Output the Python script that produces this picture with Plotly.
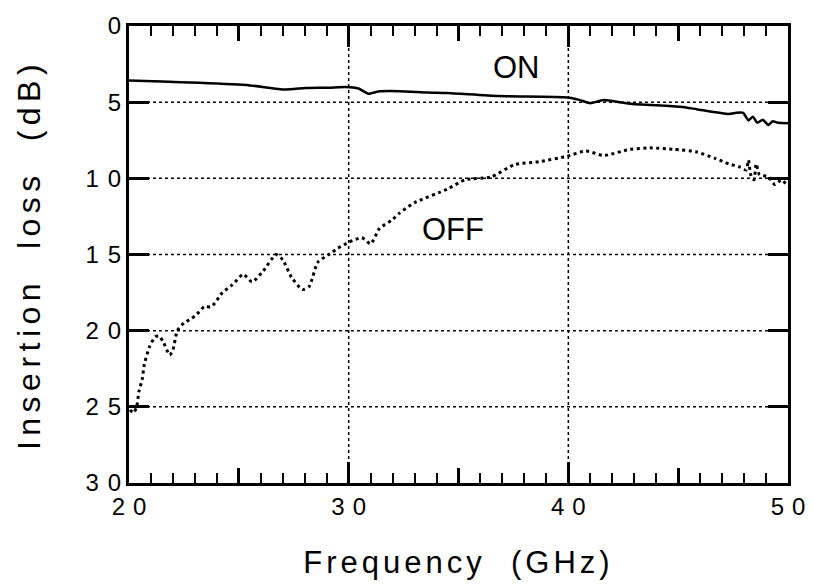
import plotly.graph_objects as go

# ---- data ----
on_freq = [20.0, 21.5, 23.2, 25.5, 27.1, 28.05, 29.1, 29.85, 30.45, 30.9, 31.35, 32.3,
           33.6, 34.5, 36.8, 39.95, 40.5, 41.0, 41.6, 42.8, 45.1, 45.84, 47.3, 47.65,
           47.96, 48.2, 48.4, 48.6, 48.85, 49.1, 49.3, 49.55, 50.0]
on_loss = [3.58, 3.65, 3.73, 3.9, 4.17, 4.07, 4.05, 4.0, 4.1, 4.45, 4.3, 4.28,
           4.37, 4.4, 4.6, 4.69, 4.85, 5.07, 4.86, 5.1, 5.3, 5.46, 5.78, 5.7,
           5.7, 6.2, 5.95, 6.35, 6.15, 6.5, 6.25, 6.35, 6.38]

off_freq = [20.05, 20.2, 20.35, 20.45, 20.6, 20.7, 20.95, 21.2, 21.35, 21.55, 21.85, 22.0,
            22.2, 22.5, 22.85, 23.1, 23.45, 23.7, 23.9, 24.25, 24.7, 25.2, 25.6, 26.1,
            26.7, 27.0, 27.4, 27.9, 28.2, 28.6, 29.1, 29.5, 30.0, 30.6, 31.0, 31.4,
            32.0, 32.3, 33.0, 34.5, 35.3, 36.5, 37.55, 38.7, 39.95, 40.8, 41.6, 42.8,
            43.7, 44.8, 45.8, 46.7, 47.3, 47.8, 48.1, 48.2, 48.3, 48.45, 48.55, 48.7,
            49.1, 49.4, 49.7, 49.9]
off_loss = [25.2, 25.4, 25.0, 24.0, 23.2, 22.2, 21.0, 20.4, 20.35, 20.7, 21.6, 21.25,
            20.0, 19.5, 19.2, 18.9, 18.4, 18.45, 18.2, 17.5, 17.0, 16.3, 16.8, 16.1,
            15.0, 15.35, 16.5, 17.3, 17.1, 15.5, 15.0, 14.6, 14.2, 13.9, 14.3, 13.3,
            12.7, 12.3, 11.6, 10.7, 10.1, 9.9, 9.1, 8.9, 8.55, 8.2, 8.5, 8.1,
            8.0, 8.1, 8.25, 8.7, 9.05, 9.25, 9.45, 8.8, 9.75, 10.1, 9.05, 9.75,
            9.9, 10.4, 10.1, 10.35]

y_ticks = [0, 5, 10, 15, 20, 25, 30]
x_ticks = [20, 30, 40, 50]
x_mid_ticks = [25, 35, 45]
labels = ["ON", "OFF"]
label_x = [37.65, 34.75]
label_y = [2.73, 13.39]

FONT = "Liberation Sans, Arial, Helvetica, sans-serif"
NB = "\u00a0"

fig = go.Figure()
fig.add_trace(go.Scatter(x=on_freq, y=on_loss, mode="lines",
                         line=dict(color="black", width=2.5, shape="spline", smoothing=0.5),
                         showlegend=False))
fig.add_trace(go.Scatter(x=off_freq, y=off_loss, mode="lines",
                         line=dict(color="black", width=3, dash="3px,3.5px", shape="spline", smoothing=0.6),
                         showlegend=False))
# helper axis that only carries the medium ticks at 25/35/45 GHz
fig.add_trace(go.Scatter(x=[x_ticks[0], x_ticks[-1]], y=[None, None], xaxis="x2", mode="lines",
                         showlegend=False, hoverinfo="skip"))

# dotted grid at the inner major tick values
for gx in x_ticks[1:-1]:
    fig.add_vline(x=gx, line=dict(color="black", width=1.5, dash="dot"), layer="below")
for gy in y_ticks[1:-1]:
    fig.add_hline(y=gy, line=dict(color="black", width=1.5, dash="dot"), layer="below")

for txt, lx, ly in zip(labels, label_x, label_y):
    fig.add_annotation(x=lx, y=ly, text=txt, showarrow=False,
                       font=dict(family="Liberation Sans Narrow, " + FONT, size=31, color="black"))

fig.update_layout(
    width=813, height=588,
    margin=dict(l=129, r=21, t=16, b=105),
    paper_bgcolor="white", plot_bgcolor="rgba(0,0,0,0)",
    font=dict(family=FONT, color="black"),
    xaxis=dict(
        range=[20, 50], tickvals=x_ticks, ticks="inside", ticklen=21, tickwidth=2.5,
        tickcolor="black", showline=True, linecolor="black", linewidth=3, mirror="ticks",
        showgrid=False, zeroline=False,
        minor=dict(dtick=1, ticks="inside", ticklen=10, tickwidth=2, tickcolor="black"),
        tickfont=dict(size=24, family=FONT),
        title=dict(text="Frequency" + NB + NB + "(GHz)", font=dict(size=31, family=FONT), standoff=33),
    ),
    xaxis2=dict(
        range=[20, 50], overlaying="x", anchor="y", side="bottom",
        tickvals=x_mid_ticks, ticks="inside", ticklen=15, tickwidth=2.5, tickcolor="black",
        showticklabels=False, showline=False, mirror="ticks", showgrid=False, zeroline=False,
    ),
    yaxis=dict(
        range=[30, 0], tickvals=y_ticks, ticks="inside", ticklen=20, tickwidth=3,
        tickcolor="black", showline=True, linecolor="black", linewidth=3, mirror="ticks",
        showgrid=False, zeroline=False,
        tickfont=dict(size=24, family=FONT),
        title=dict(text="Insertion" + NB + NB + "loss" + NB + NB + "(dB)",
                   font=dict(size=32, family=FONT), standoff=45),
    ),
)

post = """
(function(){
  var gd = document.getElementById('{plot_id}');
  var NS = 'http://www.w3.org/2000/svg';
  function spacing(){
    gd.querySelectorAll('g.xtick text').forEach(function(t){ t.setAttribute('letter-spacing', '8px'); t.setAttribute('dx', '4'); });
    gd.querySelectorAll('g.ytick text').forEach(function(t){ t.setAttribute('letter-spacing', '9px'); t.setAttribute('dx', '9'); });
    gd.querySelectorAll('text.xtitle').forEach(function(t){ t.setAttribute('letter-spacing', '4px'); });
    gd.querySelectorAll('text.ytitle').forEach(function(t){ t.setAttribute('letter-spacing', '5.5px'); });
  }
  // bring the tick marks to the front so nothing can hide them
  function ticksToFront(){
    var svgs = gd.querySelectorAll('svg.main-svg');
    if (!svgs.length) return;
    var base = svgs[0], top = svgs[svgs.length - 1];
    var old = top.querySelector('g.tick-front'); if (old) old.remove();
    var g = document.createElementNS(NS, 'g');
    g.setAttribute('class', 'tick-front');
    base.querySelectorAll('path.ticks').forEach(function(p){
      var m = p.getCTM();
      var c = p.cloneNode(true);
      if (m) c.setAttribute('transform', 'matrix(' + [m.a, m.b, m.c, m.d, m.e, m.f].join(',') + ')');
      c.style.stroke = 'rgb(0,0,0)';
      g.appendChild(c);
    });
    top.appendChild(g);
  }
  function apply(){ spacing(); ticksToFront(); }
  apply();
  if (gd.on) { gd.on('plotly_afterplot', apply); }
})();
"""

fig.write_html("out.html", post_script=post)
